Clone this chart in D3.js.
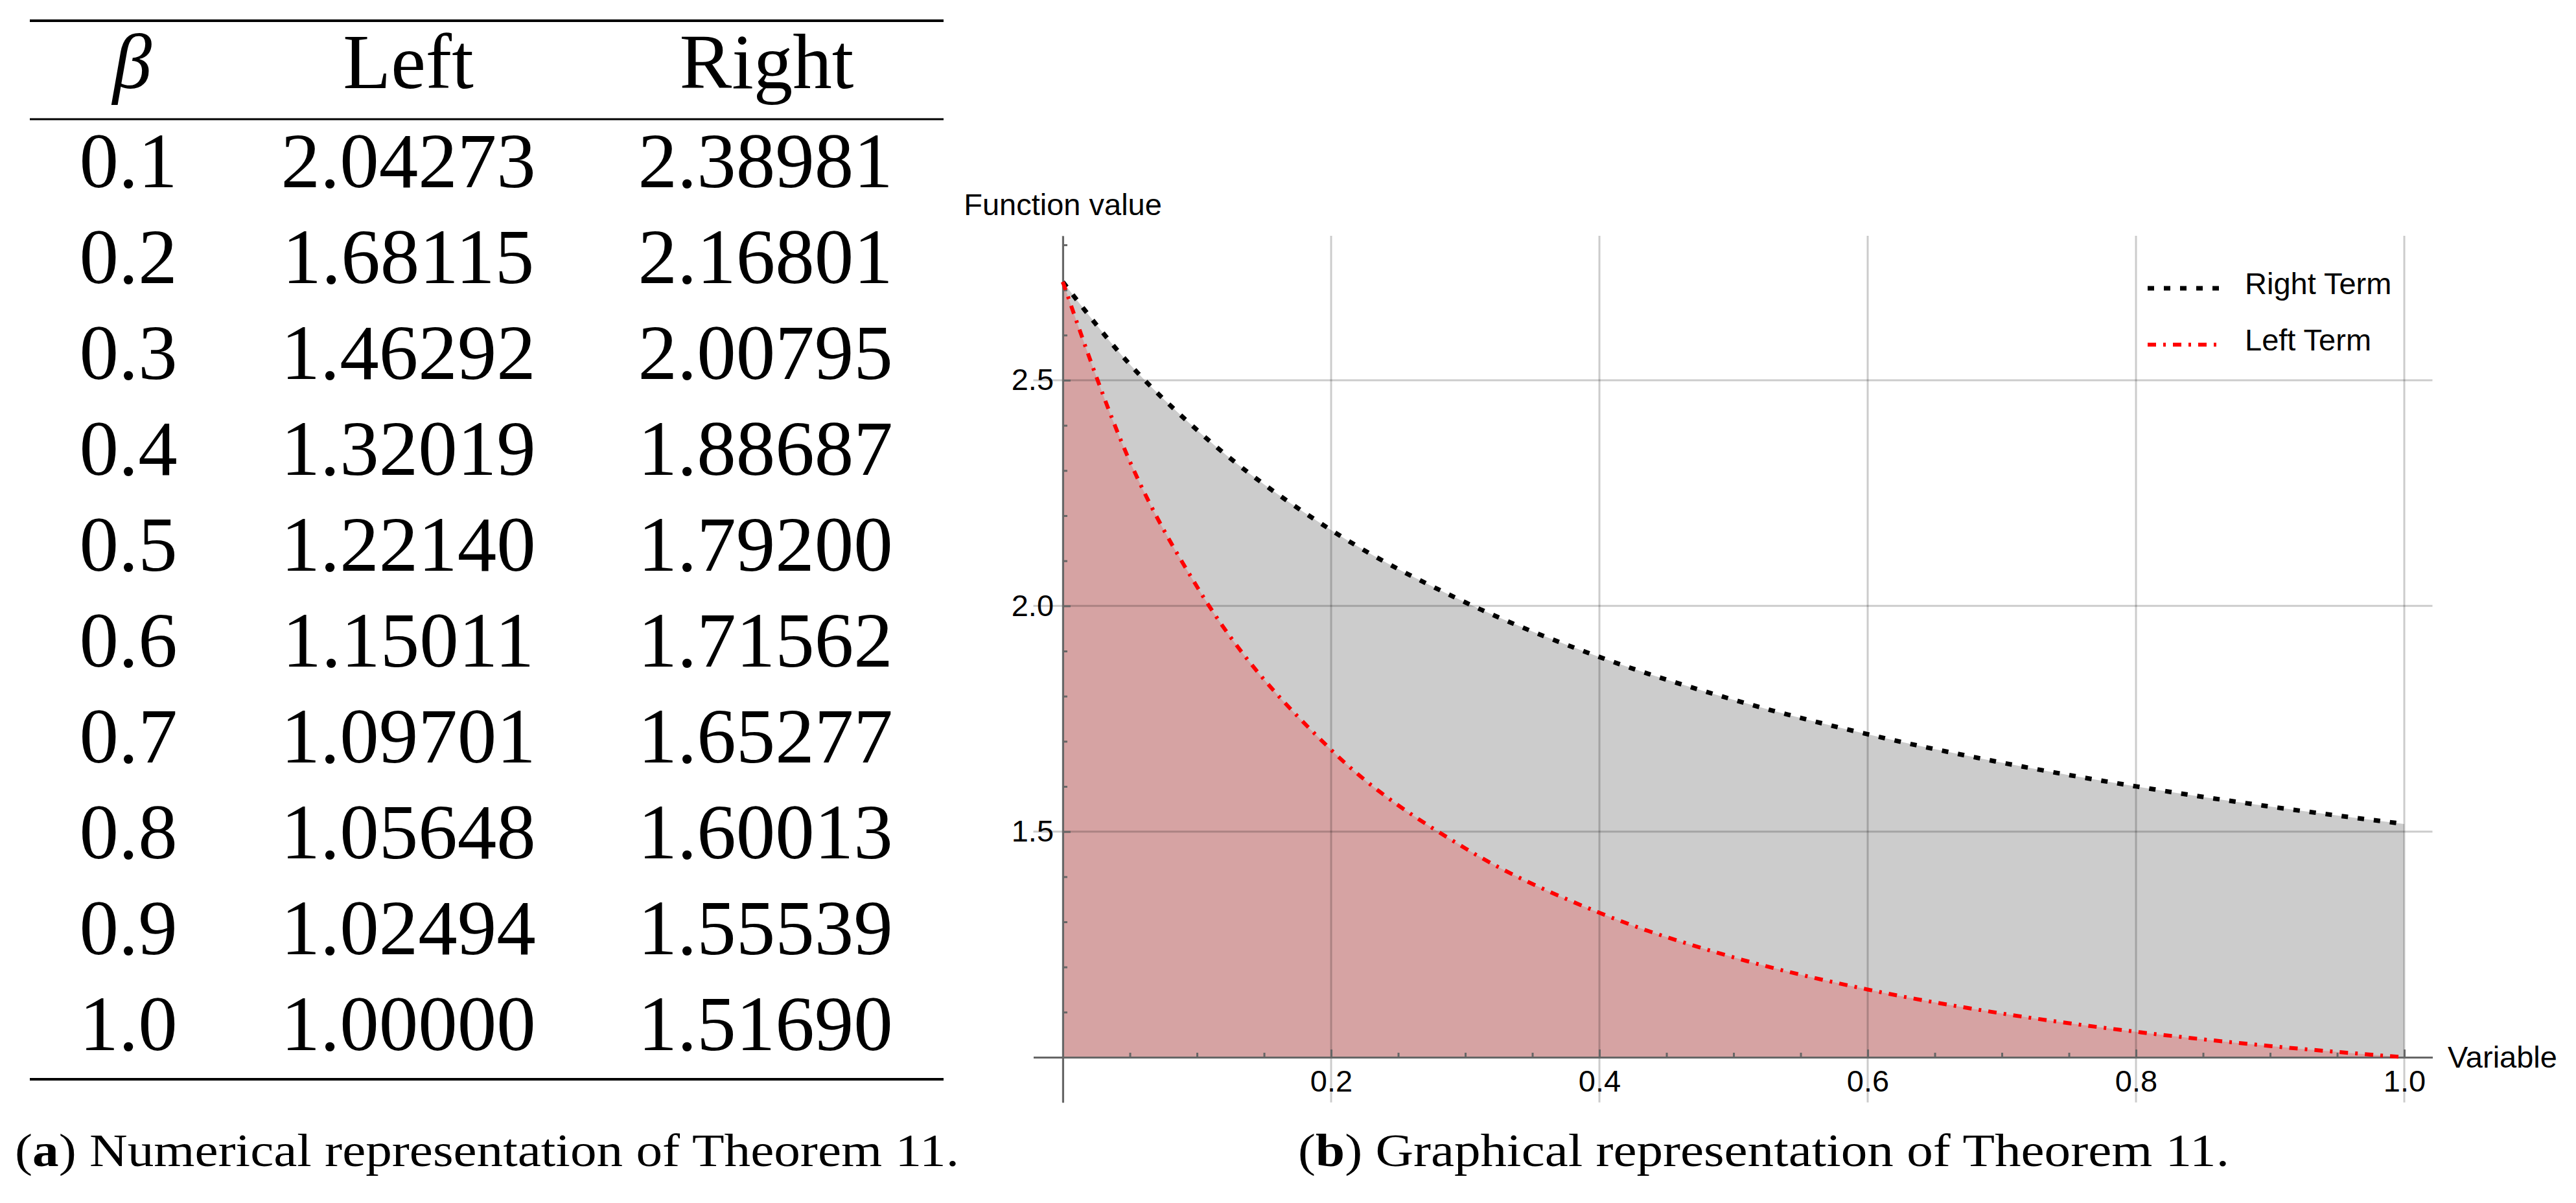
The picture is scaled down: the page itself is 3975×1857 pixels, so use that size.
<!DOCTYPE html>
<html lang="en">
<head>
    <meta charset="UTF-8">
    <title>Theorem 11</title>
    <script src="https://d3js.org/d3.v7.min.js"></script>
    <style>
        body { margin: 0; background: #fff; }
        .serif { font-family: "Liberation Serif", "Times New Roman", serif; fill: #000; }
        .sans { font-family: "Liberation Sans", Arial, sans-serif; fill: #000; }
        .axis path, .axis line { stroke: #666; stroke-width: 3; }
        .axis text { font-family: "Liberation Sans", Arial, sans-serif; font-size: 47px; fill: #000; }
        .grid line { stroke: #000; stroke-opacity: 0.2; stroke-width: 3; }
    </style>
</head>
<body>
<svg id="fig" width="3975" height="1857"></svg>
<script>
    // table values (panel a)
    const beta = [0.1, 0.2, 0.3, 0.4, 0.5, 0.6, 0.7, 0.8, 0.9, 1.0];
    const leftValues = [2.04273, 1.68115, 1.46292, 1.32019, 1.22140, 1.15011, 1.09701, 1.05648, 1.02494, 1.00000];
    const rightValues = [2.38981, 2.16801, 2.00795, 1.88687, 1.79200, 1.71562, 1.65277, 1.60013, 1.55539, 1.51690];
    const headers = ["β", "Left", "Right"];

    const startBeta = [0, 0.05];
    const startLeft = [2.718, 2.32];
    const startRight = [2.718, 2.535];

    const xMajor = [0.2, 0.4, 0.6, 0.8, 1.0];
    const yMajor = [1.5, 2.0, 2.5];
    const legendLabels = ["Right Term", "Left Term"];
    const captions = [["a", " Numerical representation of Theorem 11."],
                      ["b", " Graphical representation of Theorem 11."]];

    const svg = d3.select("#fig");
    svg.append("rect").attr("width", 3975).attr("height", 1857).attr("fill", "#fff");

    // ---------- table ----------
    const colX = [198, 630, 1181];
    const rowY = i => 289 + i * 148;
    const table = svg.append("g").attr("class", "serif").style("font-size", "121px");

    table.append("line").attr("x1", 46).attr("x2", 1456).attr("y1", 32).attr("y2", 32)
        .attr("stroke", "#000").attr("stroke-width", 4);
    table.append("line").attr("x1", 46).attr("x2", 1456).attr("y1", 184).attr("y2", 184)
        .attr("stroke", "#000").attr("stroke-width", 3);
    table.append("line").attr("x1", 46).attr("x2", 1456).attr("y1", 1666).attr("y2", 1666)
        .attr("stroke", "#000").attr("stroke-width", 4);

    table.selectAll(".head").data(headers).enter().append("text")
        .attr("class", "head")
        .attr("x", (d, i) => i === 0 ? colX[0] + 6 : colX[i] + (i === 2 ? 2 : 0))
        .attr("y", 136)
        .attr("text-anchor", "middle")
        .style("font-style", (d, i) => i === 0 ? "italic" : "normal")
        .text(d => d);

    const f1 = d3.format(".1f"), f5 = d3.format(".5f");
    const rows = table.selectAll(".row").data(beta).enter().append("g").attr("class", "row");
    rows.append("text").attr("x", colX[0]).attr("y", (d, i) => rowY(i))
        .attr("text-anchor", "middle").text(d => f1(d));
    rows.append("text").attr("x", colX[1]).attr("y", (d, i) => rowY(i))
        .attr("text-anchor", "middle").text((d, i) => f5(leftValues[i]));
    rows.append("text").attr("x", colX[2]).attr("y", (d, i) => rowY(i))
        .attr("text-anchor", "middle").text((d, i) => f5(rightValues[i]));

    // ---------- plot ----------
    const x = d3.scaleLinear().domain([-0.022, 1.021]).range([1594.5, 3753.5]);
    const y = d3.scaleLinear().domain([0.9, 2.82]).range([1701.7, 364]);

    const plotBeta = startBeta.concat(beta);
    const leftPts = plotBeta.map((b, i) => [b, i < startBeta.length ? startLeft[i] : leftValues[i - startBeta.length]]);
    const rightPts = plotBeta.map((b, i) => [b, i < startBeta.length ? startRight[i] : rightValues[i - startBeta.length]]);

    const area = d3.area().x(d => x(d[0])).y0(y(1)).y1(d => y(d[1])).curve(d3.curveMonotoneX);
    const line = d3.line().x(d => x(d[0])).y(d => y(d[1])).curve(d3.curveMonotoneX);

    const plot = svg.append("g");
    plot.append("path").datum(rightPts).attr("d", area).attr("fill", "#000").attr("fill-opacity", 0.2);
    plot.append("path").datum(leftPts).attr("d", area).attr("fill", "#f00").attr("fill-opacity", 0.2);

    // grid lines
    const grid = plot.append("g").attr("class", "grid");
    grid.selectAll(".gx").data([0].concat(xMajor)).enter().append("line")
        .attr("x1", d => x(d)).attr("x2", d => x(d))
        .attr("y1", y.range()[0]).attr("y2", y.range()[1]);
    grid.selectAll(".gy").data(yMajor).enter().append("line")
        .attr("y1", d => y(d)).attr("y2", d => y(d))
        .attr("x1", x.range()[0]).attr("x2", x.range()[1]);

    // axes
    const xMinor = d3.range(1, 21).map(k => k * 0.05).filter(v => xMajor.every(m => Math.abs(m - v) > 1e-6));
    const yMinor = d3.range(11, 29).map(k => k / 10).filter(v => yMajor.every(m => Math.abs(m - v) > 1e-6));

    plot.append("g").attr("class", "axis")
        .attr("transform", `translate(0,${y(1)})`)
        .call(d3.axisBottom(x).tickValues(xMinor).tickSizeInner(-7).tickSizeOuter(0).tickFormat(""))
        .call(g => g.select(".domain").remove());
    plot.append("g").attr("class", "axis")
        .attr("transform", `translate(0,${y(1)})`)
        .call(d3.axisBottom(x).tickValues(xMajor).tickSizeInner(-12).tickSizeOuter(0)
            .tickPadding(20).tickFormat(d3.format(".1f")));

    plot.append("g").attr("class", "axis")
        .attr("transform", `translate(${x(0)},0)`)
        .call(d3.axisLeft(y).tickValues(yMinor).tickSizeInner(-7).tickSizeOuter(0).tickFormat(""))
        .call(g => g.select(".domain").remove());
    plot.append("g").attr("class", "axis")
        .attr("transform", `translate(${x(0)},0)`)
        .call(d3.axisLeft(y).tickValues(yMajor).tickSizeInner(-12).tickSizeOuter(0)
            .tickPadding(14).tickFormat(d3.format(".1f")));

    // curves
    const rightDash = "10,15", leftDash = "13,11,4,11";
    plot.append("path").datum(rightPts).attr("d", line).attr("fill", "none")
        .attr("stroke", "#000").attr("stroke-width", 7).attr("stroke-dasharray", rightDash);
    plot.append("path").datum(leftPts).attr("d", line).attr("fill", "none")
        .attr("stroke", "#f00").attr("stroke-width", 6).attr("stroke-dasharray", leftDash);

    // axis labels
    plot.append("text").attr("class", "sans").style("font-size", "47px")
        .attr("x", x(0)).attr("y", 332).attr("text-anchor", "middle").text("Function value");
    plot.append("text").attr("class", "sans").style("font-size", "47px")
        .attr("x", 3777).attr("y", y(1) + 16).text("Variable");

    // legend
    const legend = plot.append("g");
    const legY = [445, 532], legTextY = [454, 541];
    legend.selectAll(".lg").data(legendLabels).enter().append("line")
        .attr("x1", 3314).attr("x2", 3430)
        .attr("y1", (d, i) => legY[i]).attr("y2", (d, i) => legY[i])
        .attr("stroke", (d, i) => i === 0 ? "#000" : "#f00")
        .attr("stroke-width", (d, i) => i === 0 ? 7 : 6)
        .attr("stroke-dasharray", (d, i) => i === 0 ? rightDash : leftDash);
    legend.selectAll(".lt").data(legendLabels).enter().append("text")
        .attr("class", "sans").style("font-size", "47px")
        .attr("x", 3464).attr("y", (d, i) => legTextY[i]).text(d => d);

    // ---------- captions ----------
    const capX = [23, 2003], capW = [1457, 1437];
    captions.forEach((c, i) => {
        const t = svg.append("text").attr("class", "serif").style("font-size", "72px");
        t.append("tspan").text("(");
        t.append("tspan").style("font-weight", "bold").text(c[0]);
        t.append("tspan").text(")" + c[1]);
        const w = t.node().getComputedTextLength();
        t.attr("transform", `translate(${capX[i]},1800) scale(${capW[i] / w},1)`);
    });
</script>
</body>
</html>
